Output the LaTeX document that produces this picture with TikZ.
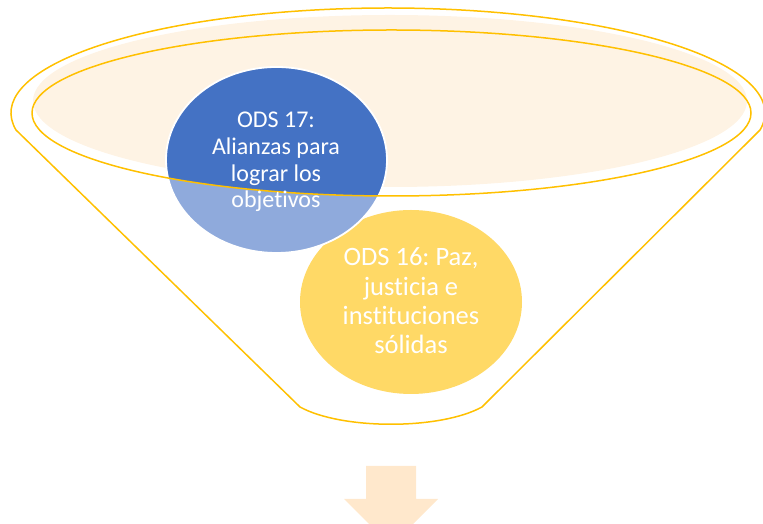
\documentclass[tikz,border=0pt]{standalone}
\usepackage{fontspec}
\setmainfont{Carlito}[Ligatures=CommonOff]
\frenchspacing
\usetikzlibrary{shapes.geometric}
\definecolor{fline}{HTML}{FFC000}
\definecolor{peach}{HTML}{FEF3E4}
\definecolor{darkblue}{HTML}{4472C4}
\definecolor{lightblue}{HTML}{8FAADC}
\definecolor{goldc}{HTML}{FFD966}
\definecolor{arrowc}{HTML}{FFE8CC}
\tikzset{
  funnelline/.style={draw=fline, line width=1.5pt, line join=round},
  circtext/.style={text=white, align=center, inner sep=0pt},
}
\begin{document}
\begin{tikzpicture}[x=1pt,y=1pt]
\useasboundingbox (0,0) rectangle (763,524);
\clip (0,0) rectangle (763,524);
% peach fill of funnel mouth
\fill[peach] (390,423) ellipse [x radius=357, y radius=86];
% yellow circle
\fill[goldc] (411,222) ellipse [x radius=111, y radius=92];
% blue circle (light part outside the mouth)
\fill[lightblue] (276.5,364) ellipse [x radius=110.5, y radius=93];
\begin{scope}
  \clip (391.5,411) ellipse [x radius=359.5, y radius=83];
  \fill[darkblue] (276.5,364) ellipse [x radius=110.5, y radius=93];
\end{scope}
\draw[white, line width=1.8pt] (276.5,364) ellipse [x radius=110.5, y radius=93];
% funnel outline
\draw[funnelline] (388,411) ++(189.3:377 and 105)
  arc[start angle=189.3, end angle=-9.3, x radius=377, y radius=105]
  -- (482,117) .. controls (440,94) and (342,94) .. (300,117) -- cycle;
\draw[funnelline] (391.5,411) ellipse [x radius=359.5, y radius=83];
% texts
\node[circtext, font=\fontsize{24}{26.8}\selectfont] (t17) at (276,362)
  {ODS 17:\\Alianzas para\\lograr los\\objetivos};
\node[circtext, font=\fontsize{26.5}{29.3}\selectfont] (t16) at (411,223)
  {ODS 16: Paz,\\justicia e\\instituciones\\sólidas};
% arrow
\fill[arrowc] (366,58) -- (416,58) -- (416,25) -- (438,25) -- (391,-22)
  -- (344,25) -- (366,25) -- cycle;
\end{tikzpicture}
\end{document}
